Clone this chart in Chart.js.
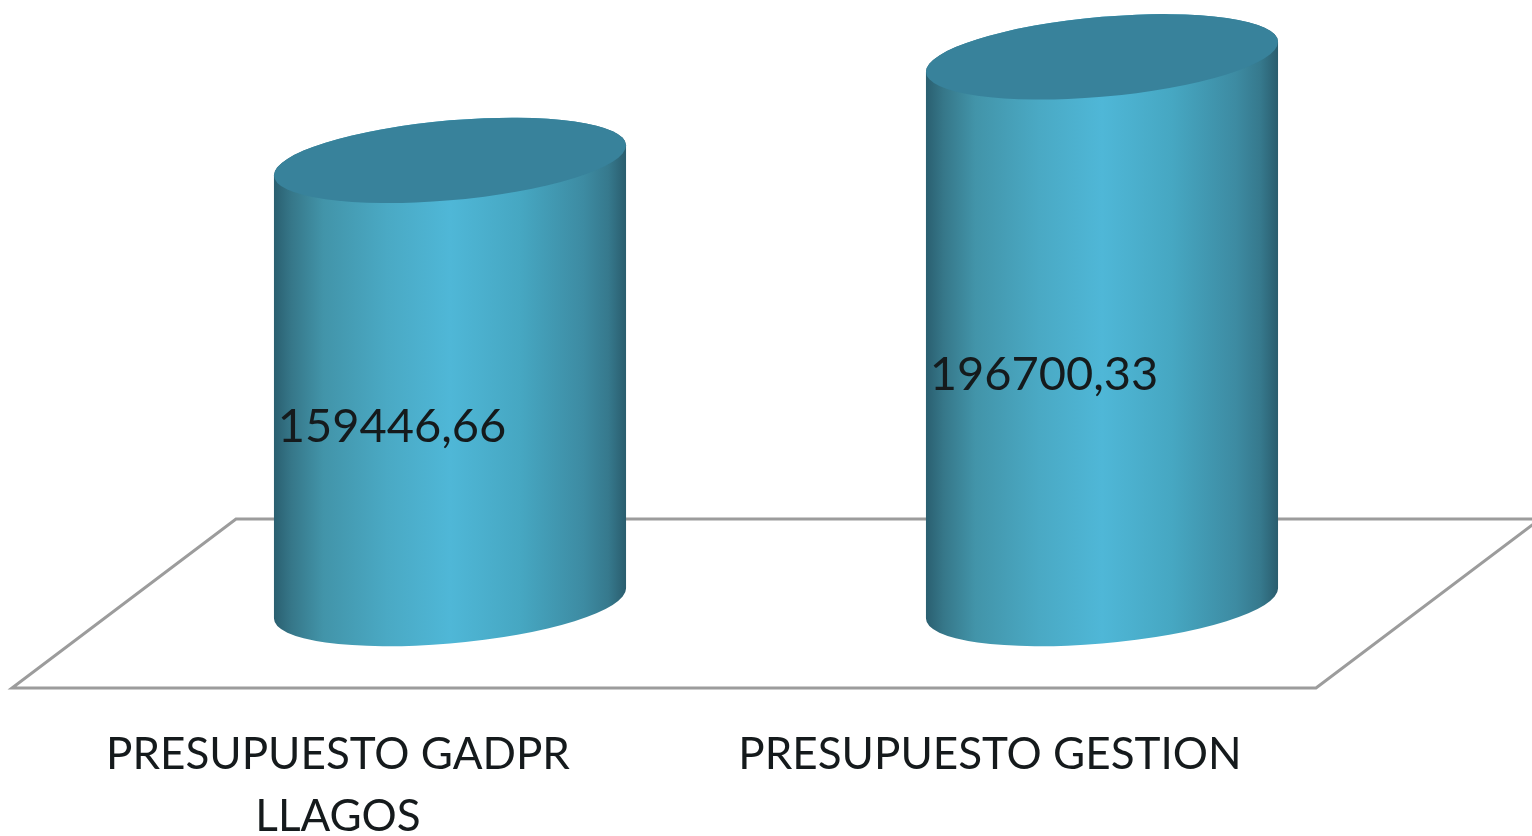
<!DOCTYPE html>
<html>
<head>
<meta charset="utf-8">
<title>Presupuesto</title>
<script src="https://cdn.jsdelivr.net/npm/chart.js@4"></script>
<style>
    body { margin: 0; background: #fff; }
    canvas { display: block; }
</style>
</head>
<body>
<canvas id="chart" width="1532" height="836"></canvas>
<script>
/* Chart data */
const categories = [["PRESUPUESTO GADPR", "LLAGOS"], "PRESUPUESTO GESTION"];
const values = [159446.66, 196700.33];
const value_labels = ["159446,66", "196700,33"];

/* Look of the 3D floor and cylinders */
const DEPTH_X = 224;
const DEPTH_Y = 169;
const ELLIPSE_RY = 40;
const ELLIPSE_TILT = 15;
const TEXT_COLOR = "#151a1c";
const FONT = "Lato, sans-serif";

/* Ellipse sheared so the left side sits lower than the right */
function ellipsePath(ctx, cx, cy, rx, start, end) {
    ctx.save();
    ctx.transform(1, -ELLIPSE_TILT / rx, 0, 1, cx, cy);
    ctx.ellipse(0, 0, rx, ELLIPSE_RY, 0, start, end, false);
    ctx.restore();
}

function drawCylinder(ctx, bar) {
    const rx = bar.width / 2;
    const cx = bar.x + DEPTH_X / 2;
    const top = bar.y - DEPTH_Y / 2;
    const bottom = bar.base - DEPTH_Y / 2;

    const side = ctx.createLinearGradient(cx - rx, 0, cx + rx, 0);
    side.addColorStop(0, "#2a5f70");
    side.addColorStop(0.05, "#367789");
    side.addColorStop(0.14, "#4294a9");
    side.addColorStop(0.32, "#4aa9c4");
    side.addColorStop(0.5, "#4fb7d7");
    side.addColorStop(0.7, "#46a7c2");
    side.addColorStop(0.88, "#3d8ba2");
    side.addColorStop(0.95, "#36798d");
    side.addColorStop(1, "#2a5d6e");

    ctx.beginPath();
    ctx.moveTo(cx + rx, top - ELLIPSE_TILT);
    ellipsePath(ctx, cx, top, rx, Math.PI, 0);
    ctx.lineTo(cx + rx, bottom - ELLIPSE_TILT);
    ellipsePath(ctx, cx, bottom, rx, 0, Math.PI);
    ctx.lineTo(cx - rx, top + ELLIPSE_TILT);
    ctx.closePath();
    ctx.fillStyle = side;
    ctx.fill();

    ctx.beginPath();
    ellipsePath(ctx, cx, top, rx, 0, Math.PI * 2);
    ctx.closePath();
    ctx.fillStyle = "#38829b";
    ctx.fill();
}

const cylinderPlugin = {
    id: "cylinders",
    beforeDatasetsDraw(chart) {
        const { ctx, chartArea } = chart;
        const { left, right, bottom } = chartArea;

        /* floor */
        ctx.save();
        ctx.beginPath();
        ctx.moveTo(left, bottom);
        ctx.lineTo(right, bottom);
        ctx.lineTo(right + DEPTH_X, bottom - DEPTH_Y);
        ctx.lineTo(left + DEPTH_X, bottom - DEPTH_Y);
        ctx.closePath();
        ctx.strokeStyle = "#9c9c9c";
        ctx.lineWidth = 3;
        ctx.stroke();
        ctx.restore();
    },
    afterDatasetsDraw(chart) {
        const { ctx } = chart;
        const bars = chart.getDatasetMeta(0).data;

        ctx.save();
        bars.forEach(bar => drawCylinder(ctx, bar));

        /* value labels */
        ctx.fillStyle = TEXT_COLOR;
        ctx.font = `47px ${FONT}`;
        ctx.textAlign = "center";
        ctx.textBaseline = "middle";
        bars.forEach((bar, i) => {
            ctx.fillText(value_labels[i], bar.x + 54, (bar.y + bar.base) / 2 - 40);
        });
        ctx.restore();
    }
};

new Chart("chart", {
    type: "bar",
    data: {
        labels: categories,
        datasets: [{
            data: values,
            backgroundColor: "transparent",
            barPercentage: 1,
            categoryPercentage: 0.54
        }]
    },
    plugins: [cylinderPlugin],
    options: {
        responsive: false,
        animation: false,
        events: [],
        layout: { padding: { left: 12, right: 216, top: 21, bottom: 0 } },
        plugins: {
            legend: { display: false },
            tooltip: { enabled: false }
        },
        scales: {
            x: {
                afterFit(scale) { scale.height = 148; },
                border: { display: false },
                grid: { display: false },
                ticks: {
                    color: TEXT_COLOR,
                    font: { family: FONT, size: 44, lineHeight: 1.41 },
                    padding: 28,
                    autoSkip: false,
                    maxRotation: 0,
                    minRotation: 0
                }
            },
            y: {
                display: false,
                min: 0,
                max: 240000
            }
        }
    }
});
</script>
</body>
</html>
